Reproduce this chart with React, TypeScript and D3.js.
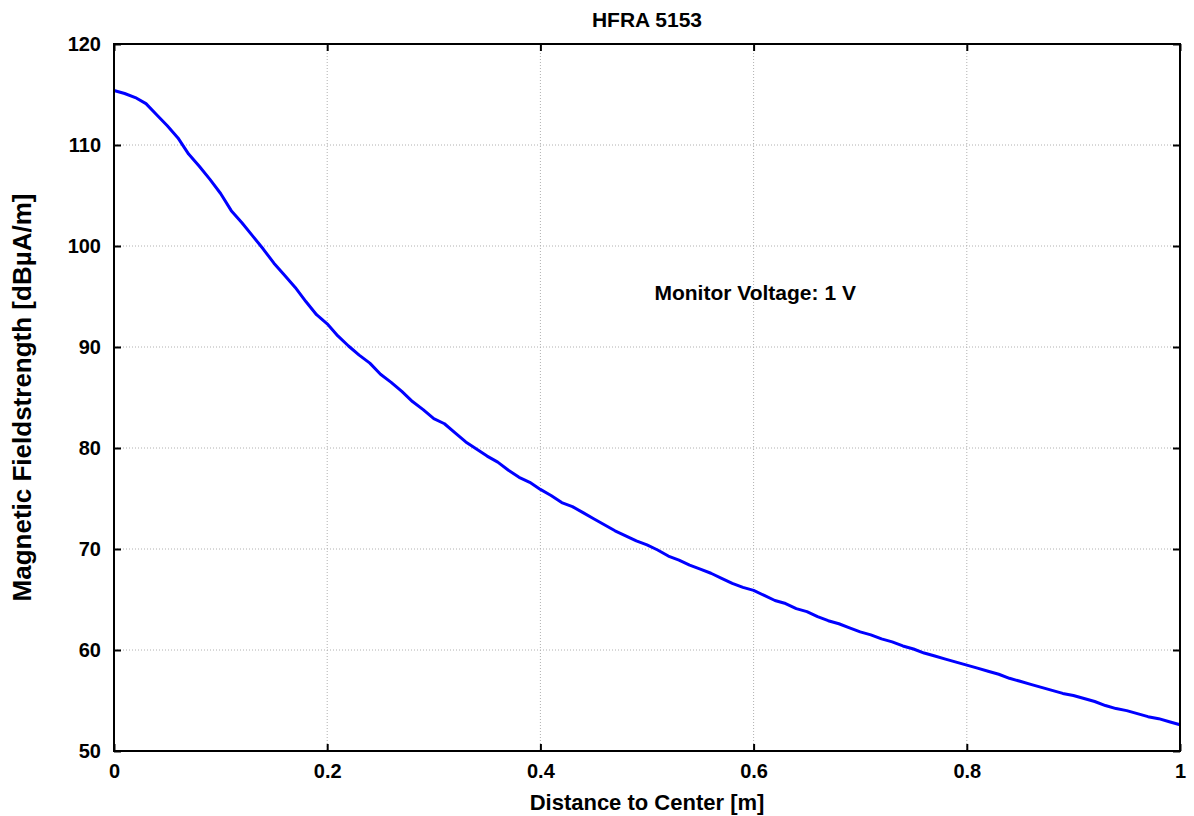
import * as d3 from "d3";
import { useEffect, useRef } from "react";

const width = 1194;
const height = 816;
const marginTop = 44;
const marginRight = 14;
const marginBottom = 65;
const marginLeft = 114;

const titleText = "HFRA 5153";
const xLabel = "Distance to Center [m]";
const yLabel = "Magnetic Fieldstrength [dBµA/m]";
const noteText = "Monitor Voltage: 1 V";

const xTicks = [0, 0.2, 0.4, 0.6, 0.8, 1];
const yTicks = [50, 60, 70, 80, 90, 100, 110, 120];

// distance in m, 0.01 step
const distance = d3.range(0, 101).map((i) => i / 100);
// field strength in dBµA/m
const fieldStrength = [
  115.4, 115.1, 114.7, 114.1, 113.0, 111.9, 110.7, 109.1, 107.9, 106.6,
  105.2, 103.5, 102.3, 101.0, 99.7, 98.3, 97.1, 95.9, 94.5, 93.2,
  92.3, 91.1, 90.1, 89.2, 88.4, 87.3, 86.5, 85.6, 84.6, 83.8,
  82.9, 82.4, 81.5, 80.6, 79.9, 79.2, 78.6, 77.8, 77.1, 76.6,
  75.9, 75.3, 74.6, 74.2, 73.6, 73.0, 72.4, 71.8, 71.3, 70.8,
  70.4, 69.9, 69.3, 68.9, 68.4, 68.0, 67.6, 67.1, 66.6, 66.2,
  65.9, 65.4, 64.9, 64.6, 64.1, 63.8, 63.3, 62.9, 62.6, 62.2,
  61.8, 61.5, 61.1, 60.8, 60.4, 60.1, 59.7, 59.4, 59.1, 58.8,
  58.5, 58.2, 57.9, 57.6, 57.2, 56.9, 56.6, 56.3, 56.0, 55.7,
  55.5, 55.2, 54.9, 54.5, 54.2, 54.0, 53.7, 53.4, 53.2, 52.9,
  52.6,
];

const font = "'Liberation Sans', Arial, sans-serif";

const App = () => {
  const ref = useRef<SVGSVGElement>(null);

  useEffect(() => {
    document.body.style.margin = "0";
    if (!ref.current) return;
    const svg = d3.select(ref.current);
    svg.selectAll("*").remove();

    const x = d3
      .scaleLinear()
      .domain([0, 1])
      .range([marginLeft, width - marginRight]);
    const y = d3
      .scaleLinear()
      .domain([50, 120])
      .range([height - marginBottom, marginTop]);

    const x0 = marginLeft;
    const x1 = width - marginRight;
    const y0 = height - marginBottom;
    const y1 = marginTop;

    // grid
    const grid = svg
      .append("g")
      .attr("stroke", "#b0b0b0")
      .attr("stroke-width", 1)
      .attr("stroke-dasharray", "1,2");
    grid
      .selectAll("line.v")
      .data(xTicks.filter((t) => t > 0 && t < 1))
      .join("line")
      .attr("x1", (d) => x(d))
      .attr("x2", (d) => x(d))
      .attr("y1", y1)
      .attr("y2", y0);
    grid
      .selectAll("line.h")
      .data(yTicks.filter((t) => t > 50 && t < 120))
      .join("line")
      .attr("class", "h")
      .attr("x1", x0)
      .attr("x2", x1)
      .attr("y1", (d) => y(d))
      .attr("y2", (d) => y(d));

    // curve
    const data = distance.map((d, i) => [d, fieldStrength[i]] as [number, number]);
    const line = d3
      .line<[number, number]>()
      .x((d) => x(d[0]))
      .y((d) => y(d[1]));
    svg
      .append("path")
      .attr("d", line(data) as string)
      .attr("fill", "none")
      .attr("stroke", "#0000ff")
      .attr("stroke-width", 3)
      .attr("stroke-linejoin", "round");

    // axes with inward ticks on all four sides
    const tick = 7;
    const axes = svg.append("g").attr("font-family", font).attr("font-weight", "bold");
    axes
      .append("g")
      .attr("transform", `translate(0,${y0})`)
      .call(d3.axisBottom(x).tickValues(xTicks).tickSize(-tick).tickPadding(13).tickFormat(d3.format("")))
      .call((g) => g.select(".domain").remove());
    axes
      .append("g")
      .attr("transform", `translate(0,${y1})`)
      .call(d3.axisTop(x).tickValues(xTicks).tickSize(-tick).tickFormat(() => ""))
      .call((g) => g.select(".domain").remove());
    axes
      .append("g")
      .attr("transform", `translate(${x0},0)`)
      .call(d3.axisLeft(y).tickValues(yTicks).tickSize(-tick).tickPadding(13))
      .call((g) => g.select(".domain").remove());
    axes
      .append("g")
      .attr("transform", `translate(${x1},0)`)
      .call(d3.axisRight(y).tickValues(yTicks).tickSize(-tick).tickFormat(() => ""))
      .call((g) => g.select(".domain").remove());
    axes.selectAll(".tick line").attr("stroke", "#000").attr("stroke-width", 2);
    axes
      .selectAll(".tick text")
      .attr("font-size", 20)
      .attr("fill", "#000")
      .attr("font-family", font);

    // frame
    svg
      .append("rect")
      .attr("x", x0)
      .attr("y", y1)
      .attr("width", x1 - x0)
      .attr("height", y0 - y1)
      .attr("fill", "none")
      .attr("stroke", "#000")
      .attr("stroke-width", 2);

    const text = svg
      .append("g")
      .attr("font-family", font)
      .attr("font-weight", "bold")
      .attr("fill", "#000");
    text
      .append("text")
      .attr("x", (x0 + x1) / 2)
      .attr("y", 27)
      .attr("text-anchor", "middle")
      .attr("font-size", 21)
      .text(titleText);
    text
      .append("text")
      .attr("x", (x0 + x1) / 2)
      .attr("y", 810)
      .attr("text-anchor", "middle")
      .attr("font-size", 22)
      .text(xLabel);
    text
      .append("text")
      .attr("transform", `translate(31,${(y0 + y1) / 2}) rotate(-90)`)
      .attr("text-anchor", "middle")
      .attr("font-size", 26)
      .text(yLabel);
    text
      .append("text")
      .attr("x", x(0.507))
      .attr("y", y(94.7))
      .attr("font-size", 21)
      .text(noteText);
  }, []);

  return (
    <div style={{ position: "absolute", left: 0, top: 0 }}>
      <svg ref={ref} width={width} height={height} viewBox={`0 0 ${width} ${height}`} style={{ display: "block", background: "#fff" }} />
    </div>
  );
};

export default App;
